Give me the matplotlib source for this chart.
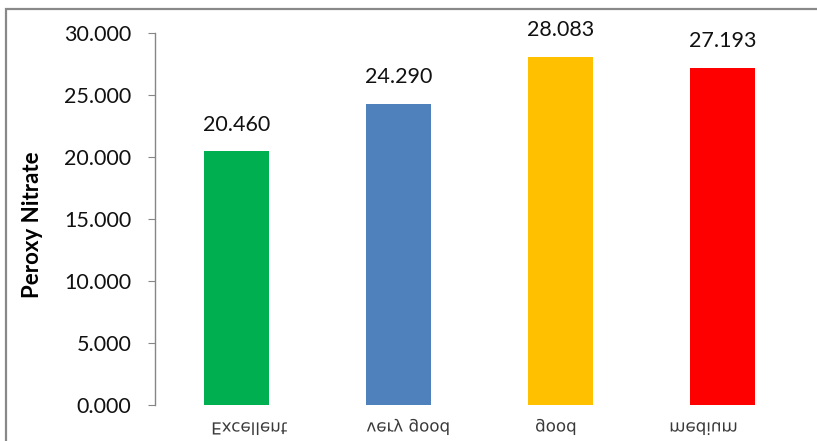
import matplotlib
matplotlib.use("Agg")
import matplotlib.pyplot as plt
from matplotlib.patches import Rectangle
from matplotlib.patheffects import AbstractPathEffect
from matplotlib.transforms import Affine2D
from matplotlib.ticker import FormatStrFormatter

plt.rcParams['font.family'] = ['Lato', 'DejaVu Sans']

categories = ['Excellent', 'very good', 'good', 'medium']
values = [20.460, 24.290, 28.083, 27.193]
colors = ['#00B050', '#4F81BD', '#FFC000', '#FF0000']
yticks = [0, 5, 10, 15, 20, 25, 30]
# where the (mirrored) category names sit along x
label_pos = [0.08, 1.06, 1.97, 2.88]


class FlipVertical(AbstractPathEffect):
    """Draw the glyph path mirrored top to bottom, in place."""

    def __init__(self, mid=52):
        super().__init__()
        self.mid = mid

    def draw_path(self, renderer, gc, tpath, affine, rgbFace=None):
        flip = Affine2D().scale(1, -1).translate(0, self.mid)
        renderer.draw_path(gc, tpath, flip + affine, rgbFace)


fig = plt.figure(figsize=(8.17, 4.41), dpi=100)
ax = fig.add_axes([155 / 817, 36 / 441, 649 / 817, 372 / 441])

x = list(range(len(categories)))
ax.bar(x, values, width=0.4, color=colors)

for xi, v in zip(x, values):
    ax.annotate(f"{v:.3f}", (xi, v), xytext=(0, 12), textcoords='offset points',
                ha='center', va='bottom', fontsize=15.5, color='#111111')

# category names, drawn mirrored under each bar
for xp, name in zip(label_pos, categories):
    t = ax.text(xp, -0.97, name, ha='center', va='top', fontsize=12,
                family='DejaVu Sans', color='#3a3a3a', clip_on=False)
    t.set_path_effects([FlipVertical()])

ax.set_xlim(-0.5, 3.5)
ax.set_ylim(0, 30)
ax.set_yticks(yticks)
ax.yaxis.set_major_formatter(FormatStrFormatter('%.3f'))
ax.set_xticks([])

for side in ['top', 'right', 'bottom']:
    ax.spines[side].set_visible(False)
ax.spines['left'].set_color('#868686')
ax.spines['left'].set_linewidth(1.0)
ax.tick_params(axis='y', length=5, color='#868686', labelsize=15.5, pad=12,
               labelcolor='#111111')

ax.set_ylabel('Peroxy Nitrate', fontsize=16, fontweight='bold')
ax.yaxis.set_label_coords(-0.1726, 0.485)

# outer chart frame
fig.patches.append(Rectangle((6 / 817, -0.2), 1.2, 1.2 - 9 / 441,
                             fill=False, edgecolor='#898989', linewidth=1.6,
                             transform=fig.transFigure))

fig.savefig('out.png', dpi=100)
